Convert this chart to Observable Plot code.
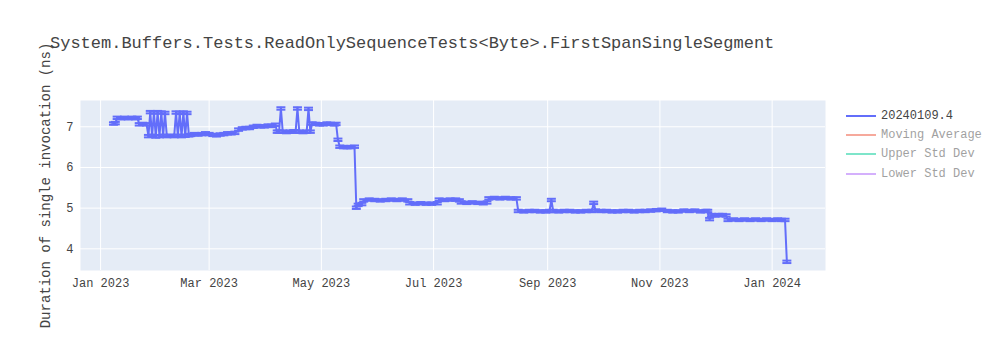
<!DOCTYPE html>
<html>
<head>
<meta charset="utf-8">
<script src="https://cdn.jsdelivr.net/npm/d3@7"></script>
<script src="https://cdn.jsdelivr.net/npm/@observablehq/plot@0.6"></script>
<style>
  body { margin: 0; background: white; }
  #wrap { position: relative; width: 1000px; height: 350px; font-family: "Courier New", "Liberation Mono", monospace; color: #444; }
  #wrap svg { position: absolute; left: 0; top: 0; }
  .title { position: absolute; left: 50px; top: 34px; font-size: 17px; white-space: nowrap; }
  .legend { position: absolute; left: 846px; top: 106px; font-size: 12px; }
  .item { height: 19.3px; display: flex; align-items: center; white-space: nowrap; }
  .swatch { width: 30px; height: 2px; margin-right: 5px; }
  .faded { opacity: 0.5; }
</style>
</head>
<body>
<div id="wrap"></div>
<script>
const chartTitle = "System.Buffers.Tests.ReadOnlySequenceTests<Byte>.FirstSpanSingleSegment";
const yTitle = "Duration of single invocation (ns)";
const legendNames = ["20240109.4", "Moving Average", "Upper Std Dev", "Lower Std Dev"];
const legendColors = ["#636EFA", "#EF553B", "#00CC96", "#AB63FA"];
const legendVisible = [true, false, false, false];
const xTicks = ["2023-01-01", "2023-03-01", "2023-05-01", "2023-07-01", "2023-09-01", "2023-11-01", "2024-01-01"];
const yTicks = [4, 5, 6, 7];

// [date, mean duration (ns), std dev (ns)]
const series = [
  ["2023-01-08",7.08,0.03],["2023-01-09",7.09,0.03],["2023-01-10",7.22,0.03],["2023-01-12",7.21,0.03],["2023-01-14",7.22,0.03],
  ["2023-01-16",7.21,0.03],["2023-01-18",7.22,0.03],["2023-01-20",7.21,0.03],["2023-01-21",7.22,0.03],["2023-01-22",7.06,0.03],
  ["2023-01-24",7.07,0.03],["2023-01-26",7.06,0.03],["2023-01-27",6.77,0.03],["2023-01-28",7.36,0.03],["2023-01-29",6.78,0.03],
  ["2023-01-30",7.35,0.03],["2023-01-31",6.76,0.03],["2023-02-01",7.36,0.03],["2023-02-02",6.77,0.03],["2023-02-03",7.35,0.03],
  ["2023-02-04",6.78,0.03],["2023-02-05",7.34,0.03],["2023-02-06",6.77,0.03],["2023-02-08",6.78,0.03],["2023-02-10",6.77,0.03],
  ["2023-02-11",7.35,0.03],["2023-02-12",6.78,0.03],["2023-02-13",7.34,0.03],["2023-02-14",6.77,0.03],["2023-02-15",7.35,0.03],
  ["2023-02-16",6.78,0.03],["2023-02-17",7.34,0.03],["2023-02-18",6.79,0.03],["2023-02-19",6.80,0.03],["2023-02-21",6.82,0.03],
  ["2023-02-23",6.81,0.03],["2023-02-25",6.82,0.03],["2023-02-27",6.84,0.03],["2023-03-01",6.82,0.03],["2023-03-03",6.80,0.03],
  ["2023-03-05",6.79,0.03],["2023-03-07",6.81,0.03],["2023-03-09",6.82,0.03],["2023-03-11",6.84,0.03],["2023-03-13",6.84,0.03],
  ["2023-03-15",6.85,0.03],["2023-03-17",6.93,0.03],["2023-03-19",6.96,0.03],["2023-03-21",6.97,0.03],["2023-03-23",6.97,0.03],
  ["2023-03-25",7.00,0.03],["2023-03-27",7.02,0.03],["2023-03-29",7.01,0.03],["2023-03-31",7.01,0.03],["2023-04-02",7.03,0.03],
  ["2023-04-04",7.02,0.03],["2023-04-06",7.05,0.03],["2023-04-07",6.88,0.03],["2023-04-08",6.88,0.03],["2023-04-09",7.45,0.03],
  ["2023-04-10",6.88,0.03],["2023-04-12",6.87,0.03],["2023-04-14",6.88,0.03],["2023-04-16",6.89,0.03],["2023-04-17",6.88,0.03],
  ["2023-04-18",7.45,0.03],["2023-04-19",6.88,0.03],["2023-04-21",6.87,0.03],["2023-04-23",6.88,0.03],["2023-04-24",7.44,0.03],
  ["2023-04-25",6.88,0.03],["2023-04-26",7.08,0.03],["2023-04-28",7.07,0.03],["2023-04-30",7.06,0.03],["2023-05-02",7.06,0.03],
  ["2023-05-04",7.08,0.03],["2023-05-06",7.07,0.03],["2023-05-08",7.06,0.03],["2023-05-09",7.07,0.03],["2023-05-10",6.68,0.03],
  ["2023-05-11",6.51,0.03],["2023-05-13",6.50,0.03],["2023-05-15",6.50,0.03],["2023-05-17",6.50,0.03],["2023-05-19",6.51,0.03],
  ["2023-05-20",5.01,0.03],["2023-05-21",5.08,0.03],["2023-05-23",5.10,0.03],["2023-05-24",5.19,0.03],["2023-05-27",5.21,0.03],
  ["2023-05-30",5.20,0.03],["2023-06-02",5.19,0.03],["2023-06-05",5.20,0.03],["2023-06-08",5.21,0.03],["2023-06-11",5.20,0.03],
  ["2023-06-14",5.21,0.03],["2023-06-17",5.19,0.03],["2023-06-18",5.12,0.03],["2023-06-21",5.11,0.03],["2023-06-24",5.12,0.03],
  ["2023-06-27",5.11,0.03],["2023-06-30",5.11,0.03],["2023-07-03",5.12,0.03],["2023-07-04",5.21,0.03],["2023-07-07",5.20,0.03],
  ["2023-07-10",5.21,0.03],["2023-07-13",5.21,0.03],["2023-07-15",5.19,0.03],["2023-07-16",5.14,0.03],["2023-07-19",5.13,0.03],
  ["2023-07-22",5.14,0.03],["2023-07-25",5.13,0.03],["2023-07-28",5.12,0.03],["2023-07-30",5.14,0.03],["2023-07-31",5.24,0.03],
  ["2023-08-03",5.25,0.03],["2023-08-06",5.24,0.03],["2023-08-09",5.25,0.03],["2023-08-12",5.24,0.03],["2023-08-15",5.24,0.03],
  ["2023-08-16",4.93,0.03],["2023-08-19",4.92,0.03],["2023-08-22",4.93,0.03],["2023-08-25",4.93,0.03],["2023-08-28",4.92,0.03],
  ["2023-08-31",4.92,0.03],["2023-09-02",4.93,0.03],["2023-09-03",5.20,0.03],["2023-09-04",4.93,0.03],["2023-09-07",4.92,0.03],
  ["2023-09-10",4.93,0.03],["2023-09-13",4.93,0.03],["2023-09-16",4.92,0.03],["2023-09-19",4.92,0.03],["2023-09-22",4.93,0.03],
  ["2023-09-25",4.93,0.03],["2023-09-26",5.13,0.03],["2023-09-27",4.94,0.03],["2023-09-30",4.93,0.03],["2023-10-03",4.93,0.03],
  ["2023-10-06",4.92,0.03],["2023-10-09",4.92,0.03],["2023-10-12",4.93,0.03],["2023-10-15",4.93,0.03],["2023-10-18",4.92,0.03],
  ["2023-10-21",4.93,0.03],["2023-10-24",4.93,0.03],["2023-10-27",4.94,0.03],["2023-10-30",4.95,0.03],["2023-11-02",4.96,0.03],
  ["2023-11-05",4.93,0.03],["2023-11-08",4.92,0.03],["2023-11-11",4.92,0.03],["2023-11-14",4.94,0.03],["2023-11-17",4.93,0.03],
  ["2023-11-20",4.94,0.03],["2023-11-23",4.92,0.03],["2023-11-26",4.93,0.03],["2023-11-27",4.93,0.03],["2023-11-28",4.73,0.03],
  ["2023-11-29",4.83,0.03],["2023-12-01",4.82,0.03],["2023-12-03",4.83,0.03],["2023-12-05",4.83,0.03],["2023-12-07",4.82,0.03],
  ["2023-12-08",4.71,0.03],["2023-12-11",4.72,0.03],["2023-12-14",4.71,0.03],["2023-12-17",4.72,0.03],["2023-12-20",4.71,0.03],
  ["2023-12-23",4.72,0.03],["2023-12-26",4.71,0.03],["2023-12-29",4.72,0.03],["2024-01-01",4.71,0.03],["2024-01-04",4.72,0.03],
  ["2024-01-06",4.71,0.03],["2024-01-08",4.71,0.03],["2024-01-09",3.68,0.03]
];

const data = series.map(([d, v, e]) => ({date: new Date(d), v, lo: v - e, hi: v + e}));
const tickDates = xTicks.map(d => new Date(d));
const color = legendColors[0];
const fmt = d3.utcFormat("%b %Y");

const capSymbol = {
  draw(ctx, size) {
    const w = Math.sqrt(size / Math.PI);
    ctx.moveTo(-w, 0);
    ctx.lineTo(w, 0);
  }
};

const chart = Plot.plot({
  width: 1000,
  height: 350,
  marginLeft: 80,
  marginRight: 175,
  marginTop: 100,
  marginBottom: 80,
  style: {fontFamily: '"Courier New", "Liberation Mono", monospace', fontSize: "12px", color: "#444", background: "transparent"},
  x: {type: "utc", domain: [new Date("2022-12-21T02:00:00Z"), new Date("2024-01-30T00:00:00Z")]},
  y: {domain: [3.467, 7.646]},
  marks: [
    Plot.frame({fill: "#E5ECF6", stroke: null}),
    Plot.gridX(tickDates, {stroke: "white", strokeOpacity: 1, strokeWidth: 1}),
    Plot.gridY(yTicks, {stroke: "white", strokeOpacity: 1, strokeWidth: 1}),
    Plot.axisX({ticks: tickDates, tickFormat: fmt, tickSize: 0, tickPadding: 8, label: null, fill: "#444"}),
    Plot.axisY({ticks: yTicks, tickFormat: d => String(d), tickSize: 0, tickPadding: 7, label: null, fill: "#444"}),
    Plot.text([yTitle], {text: d => d, frameAnchor: "left", rotate: -90, dx: -35, fontSize: 14, fill: "#444", textAnchor: "middle"}),
    Plot.ruleX(data, {x: "date", y1: "lo", y2: "hi", stroke: color, strokeWidth: 2}),
    Plot.line(data, {x: "date", y: "v", stroke: color, strokeWidth: 2}),
    Plot.dot(data, {x: "date", y: "lo", symbol: capSymbol, r: 4.5, stroke: color, strokeWidth: 2, fill: "none"}),
    Plot.dot(data, {x: "date", y: "hi", symbol: capSymbol, r: 4.5, stroke: color, strokeWidth: 2, fill: "none"})
  ]
});

const wrap = document.getElementById("wrap");
wrap.appendChild(chart);

const t = document.createElement("div");
t.className = "title";
t.textContent = chartTitle;
wrap.appendChild(t);

const lg = document.createElement("div");
lg.className = "legend";
legendNames.forEach((name, i) => {
  const it = document.createElement("div");
  it.className = "item" + (legendVisible[i] ? "" : " faded");
  const sw = document.createElement("div");
  sw.className = "swatch";
  sw.style.background = legendColors[i];
  const tx = document.createElement("span");
  tx.textContent = name;
  it.appendChild(sw);
  it.appendChild(tx);
  lg.appendChild(it);
});
wrap.appendChild(lg);
</script>
</body>
</html>
